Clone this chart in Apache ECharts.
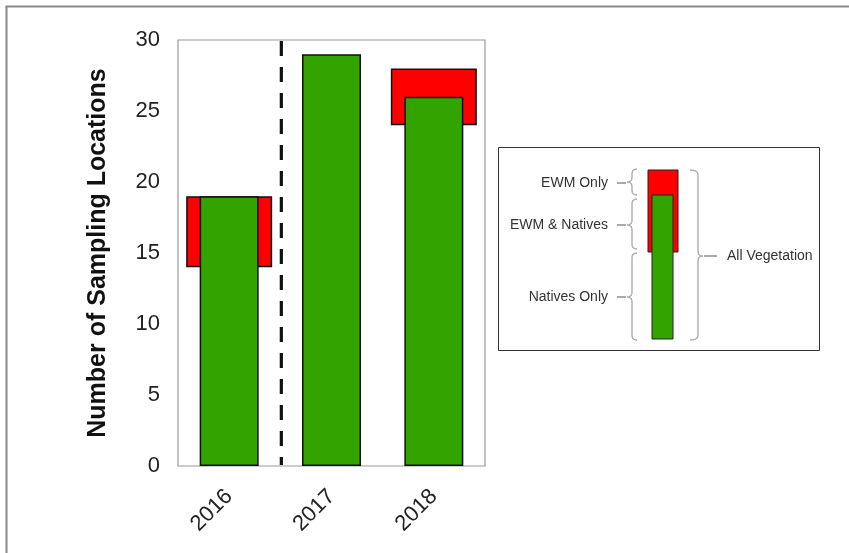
<!DOCTYPE html>
<html>
<head>
<meta charset="utf-8">
<script src="https://cdn.jsdelivr.net/npm/echarts@6/dist/echarts.min.js"></script>
<style>
html,body{margin:0;padding:0;background:#fff;}
#c{width:849px;height:553px;}
</style>
</head>
<body>
<div id="c"></div>
<script>
// Data
var years = ['2016', '2017', '2018'];
var nativesOnly = [14, 29, 24];     // green below red
var ewmAndNatives = [5, 0, 2];      // red overlapping green
var ewmOnly = [0, 0, 2];            // red above green
var yTicks = [0, 5, 10, 15, 20, 25, 30];

var greenTotal = nativesOnly.map(function (v, i) { return v + ewmAndNatives[i]; });
var ewmTotal = ewmAndNatives.map(function (v, i) { return v + ewmOnly[i]; });
var redBase = nativesOnly.map(function (v, i) { return ewmTotal[i] > 0 ? v : '-'; });
var redSpan = ewmTotal.map(function (v) { return v > 0 ? v : '-'; });

var FONT = 'Liberation Sans, Arial, sans-serif';
var GREEN = '#33A300';
var RED = '#FF0000';

var chart = echarts.init(document.getElementById('c'), null, {renderer: 'canvas'});

function quad(p0, p1, p2, out) {
  for (var k = 1; k <= 8; k++) {
    var t = k / 8, u = 1 - t;
    out.push([u * u * p0[0] + 2 * u * t * p1[0] + t * t * p2[0],
              u * u * p0[1] + 2 * u * t * p1[1] + t * t * p2[1]]);
  }
}
function brace(xEnd, xBody, xTip, y1, y2, ym) {
  var r = Math.min(5, (y2 - y1) / 5);
  var pts = [[xEnd, y1]];
  quad([xEnd, y1], [xBody, y1], [xBody, y1 + r], pts);
  pts.push([xBody, ym - r]);
  quad([xBody, ym - r], [xBody, ym], [xTip, ym], pts);
  quad([xTip, ym], [xBody, ym], [xBody, ym + r], pts);
  pts.push([xBody, y2 - r]);
  quad([xBody, y2 - r], [xBody, y2], [xEnd, y2], pts);
  return {type: 'polyline', shape: {points: pts}, style: {stroke: '#a8a8a8', lineWidth: 1.3, fill: null}};
}

var txtStyle = function (t, x, y, align) {
  return {type: 'text', style: {text: t, x: x, y: y, align: align, verticalAlign: 'middle',
    font: '14px ' + FONT, fill: '#333'}};
};

var legendGraphics = [
  {type: 'rect', shape: {x: 498.5, y: 147.5, width: 321, height: 203}, style: {fill: '#fff', stroke: '#333', lineWidth: 1}},
  {type: 'rect', shape: {x: 648, y: 170, width: 30, height: 82}, style: {fill: RED, stroke: '#222', lineWidth: 1}},
  {type: 'rect', shape: {x: 652, y: 195, width: 21, height: 144}, style: {fill: GREEN, stroke: '#222', lineWidth: 1}},
  brace(637, 632, 627, 169, 195, 182),
  brace(637, 632, 627, 199, 249, 225),
  brace(637, 632, 627, 253, 340, 297),
  brace(690, 698, 703, 170, 340, 256),
  {type: 'line', shape: {x1: 617, y1: 183, x2: 626, y2: 183}, style: {stroke: '#555', lineWidth: 1}},
  {type: 'line', shape: {x1: 617, y1: 225, x2: 626, y2: 225}, style: {stroke: '#555', lineWidth: 1}},
  {type: 'line', shape: {x1: 617, y1: 297, x2: 626, y2: 297}, style: {stroke: '#555', lineWidth: 1}},
  {type: 'line', shape: {x1: 704, y1: 256, x2: 717, y2: 256}, style: {stroke: '#555', lineWidth: 1}},
  txtStyle('EWM Only', 608, 183, 'right'),
  txtStyle('EWM & Natives', 608, 225, 'right'),
  txtStyle('Natives Only', 608, 297, 'right'),
  txtStyle('All Vegetation', 727, 256, 'left'),
  // outer frame
  {type: 'line', shape: {x1: 6.5, y1: 6, x2: 6.5, y2: 553}, style: {stroke: '#888', lineWidth: 2}},
  {type: 'line', shape: {x1: 5.5, y1: 6.5, x2: 849, y2: 6.5}, style: {stroke: '#888', lineWidth: 2}}
];

var option = {
  animation: false,
  backgroundColor: '#fff',
  grid: {left: 178, right: 364, top: 40, bottom: 87, show: true, borderColor: '#999', borderWidth: 1.2, backgroundColor: 'transparent'},
  xAxis: [
    {type: 'category', data: years, position: 'bottom',
      axisLine: {show: false}, axisTick: {show: false}, splitLine: {show: false},
      axisLabel: {rotate: 45, fontSize: 22, color: '#222', margin: 27, fontFamily: FONT}},
    {type: 'category', data: years, show: false, position: 'bottom'}
  ],
  yAxis: {
    type: 'value', min: yTicks[0], max: yTicks[yTicks.length - 1], interval: 5,
    splitLine: {show: false}, axisLine: {show: false}, axisTick: {show: false},
    axisLabel: {fontSize: 22, color: '#222', margin: 18, fontFamily: FONT},
    name: 'Number of Sampling Locations', nameLocation: 'middle', nameGap: 67,
    nameTextStyle: {fontSize: 25, fontWeight: 'bold', color: '#111', fontFamily: FONT}
  },
  series: [
    {type: 'bar', xAxisIndex: 0, stack: 'ewm', data: redBase, barWidth: 86, silent: true,
      itemStyle: {color: 'rgba(0,0,0,0)', borderWidth: 0}},
    {type: 'bar', xAxisIndex: 0, stack: 'ewm', data: redSpan, barWidth: 86,
      itemStyle: {color: RED, borderColor: '#111', borderWidth: 1.5}},
    {type: 'bar', xAxisIndex: 1, data: greenTotal, barWidth: 59,
      itemStyle: {color: GREEN, borderColor: '#111', borderWidth: 1.5}}
  ],
  graphic: legendGraphics
};
chart.setOption(option);

// dashed separator between 2016 and 2017
var xa = chart.convertToPixel({xAxisIndex: 0}, years[0]);
var xb = chart.convertToPixel({xAxisIndex: 0}, years[1]);
var yTop = chart.convertToPixel({yAxisIndex: 0}, yTicks[yTicks.length - 1]);
var yBot = chart.convertToPixel({yAxisIndex: 0}, yTicks[0]);
var xm = (xa + xb) / 2 + 1;
chart.setOption({graphic: legendGraphics.concat([
  {type: 'line', shape: {x1: xm, y1: yTop + 1, x2: xm, y2: yBot - 1},
    style: {stroke: '#111', lineWidth: 3.2, lineDash: [15, 11]}, z: 10}
])});
</script>
</body>
</html>
